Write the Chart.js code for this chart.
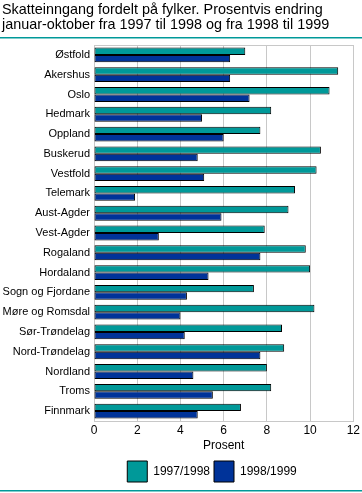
<!DOCTYPE html>
<html>
<head>
<meta charset="utf-8">
<script src="https://cdn.jsdelivr.net/npm/chart.js@4.4.1/dist/chart.umd.min.js"></script>
<style>
html,body{margin:0;padding:0;background:#fff;}
#wrap{width:362px;height:493px;position:relative;}
</style>
</head>
<body>
<div id="wrap"><canvas id="c" width="362" height="493"></canvas></div>
<script>
const titleLines = ["Skatteinngang fordelt på fylker. Prosentvis endring", "januar-oktober fra 1997 til 1998 og fra 1998 til 1999"];
const categories = ["Østfold","Akershus","Oslo","Hedmark","Oppland","Buskerud","Vestfold","Telemark","Aust-Agder","Vest-Agder","Rogaland","Hordaland","Sogn og Fjordane","Møre og Romsdal","Sør-Trøndelag","Nord-Trøndelag","Nordland","Troms","Finnmark"];
const series1Label = "1997/1998";
const series2Label = "1998/1999";
const series1 = [7.0, 11.3, 10.9, 8.2, 7.7, 10.5, 10.3, 9.3, 9.0, 7.9, 9.8, 10.0, 7.4, 10.2, 8.7, 8.8, 8.0, 8.2, 6.8];
const series2 = [6.3, 6.3, 7.2, 5.0, 6.0, 4.8, 5.1, 1.9, 5.9, 3.0, 7.7, 5.3, 4.3, 4.0, 4.2, 7.7, 4.6, 5.5, 4.8];
const xTicks = [0, 2, 4, 6, 8, 10, 12];
const xTitle = "Prosent";

const FONT = "'Liberation Sans', Arial, sans-serif";

const decor = {
  id: 'decor',
  afterLayout(chart) {
    if (chart.legend) { chart.legend.left += 34; chart.legend.right += 34; }
    if (chart.titleBlock) { chart.titleBlock.left += 2; chart.titleBlock.right += 2; }
  },
  beforeDatasetsDraw(chart) {
    const {ctx, chartArea: a} = chart;
    ctx.save();
    ctx.strokeStyle = '#c8c8c8';
    ctx.lineWidth = 1;
    ctx.strokeRect(Math.round(a.left) + 0.5, Math.round(a.top) + 0.5, Math.round(a.right - a.left), Math.round(a.bottom - a.top));
    ctx.restore();
  },
  afterDraw(chart) {
    const ctx = chart.ctx;
    ctx.save();
    ctx.fillStyle = '#009999';
    ctx.fillRect(0, 37, 362, 1.5);
    ctx.fillRect(0, 490, 362, 1.5);
    ctx.restore();
  }
};

new Chart(document.getElementById('c'), {
  type: 'bar',
  data: {
    labels: categories,
    datasets: [
      {label: series1Label, data: series1, backgroundColor: '#009999', borderColor: '#000', borderWidth: 1, borderSkipped: false, categoryPercentage: 0.75, barPercentage: 1.0},
      {label: series2Label, data: series2, backgroundColor: '#003399', borderColor: '#000', borderWidth: 1, borderSkipped: false, categoryPercentage: 0.75, barPercentage: 1.0}
    ]
  },
  options: {
    indexAxis: 'y',
    responsive: false,
    animation: false,
    devicePixelRatio: 1,
    layout: {padding: {left: 0, right: 6, top: 0, bottom: 1}},
    plugins: {
      title: {
        display: true,
        text: titleLines,
        align: 'start',
        color: '#000',
        font: {family: FONT, size: 14.4, weight: 'normal', lineHeight: '15px'},
        padding: {top: 3, bottom: 12}
      },
      legend: {
        position: 'bottom',
        labels: {
          color: '#000',
          font: {family: FONT, size: 12},
          boxWidth: 20,
          boxHeight: 21,
          padding: 4
        }
      },
      tooltip: {enabled: false}
    },
    scales: {
      x: {
        min: 0, max: 12,
        afterBuildTicks(scale) { scale.ticks = xTicks.map(v => ({value: v})); },
        afterFit(scale) { scale.height = 36; },
        grid: {color: '#c8c8c8', drawTicks: false},
        border: {display: false},
        ticks: {color: '#000', font: {family: FONT, size: 12}, padding: 2},
        title: {display: true, text: xTitle, color: '#000', font: {family: FONT, size: 12}, padding: {top: 1, bottom: 4}}
      },
      y: {
        grid: {display: false, drawTicks: false},
        border: {display: false},
        afterFit(scale) { scale.width = 94; },
        ticks: {color: '#000', font: {family: FONT, size: 11}, padding: 4, autoSkip: false}
      }
    }
  },
  plugins: [decor]
});
</script>
</body>
</html>
